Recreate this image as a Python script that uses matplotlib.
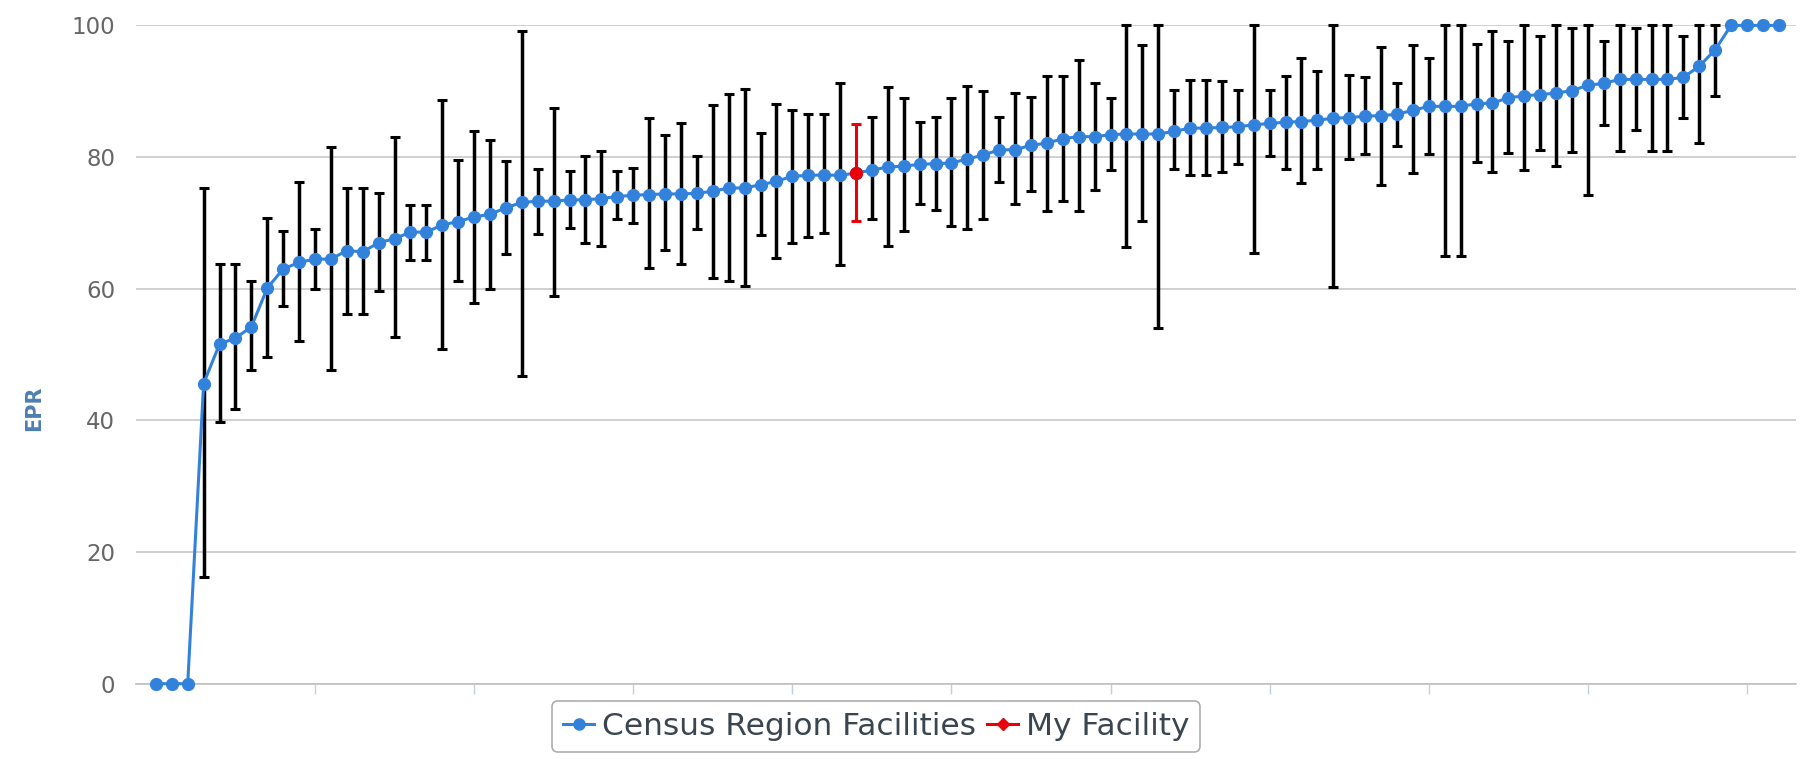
import numpy as np
import matplotlib
matplotlib.use("Agg")
import matplotlib.pyplot as plt
from matplotlib.lines import Line2D

# ---- data ----
epr = [0, 0, 0, 45.6, 51.6, 52.5, 54.2, 60.1, 63.0, 64.0,
       64.5, 64.5, 65.8, 65.6, 67.0, 67.6, 68.6, 68.6, 69.7, 70.2,
       70.9, 71.3, 72.3, 73.1, 73.3, 73.3, 73.5, 73.5, 73.7, 74.0,
       74.2, 74.3, 74.4, 74.4, 74.5, 74.8, 75.3, 75.3, 75.8, 76.3,
       77.1, 77.2, 77.3, 77.2, 77.6, 78.0, 78.5, 78.6, 78.9, 79.0,
       79.1, 79.7, 80.3, 81.1, 81.1, 81.8, 82.1, 82.8, 83.1, 83.1,
       83.4, 83.5, 83.5, 83.5, 83.9, 84.4, 84.4, 84.5, 84.6, 84.9,
       85.1, 85.3, 85.4, 85.6, 85.9, 86.0, 86.2, 86.3, 86.5, 87.1,
       87.7, 87.7, 87.7, 88.1, 88.2, 89.0, 89.3, 89.5, 89.7, 90.1,
       90.9, 91.2, 91.8, 91.8, 91.8, 91.8, 92.1, 93.8, 96.3, 100,
       100, 100, 100]

nan = np.nan
err_low = [nan, nan, nan, 16.2, 39.8, 41.7, 47.6, 49.7, 57.3, 52.0,
           60.0, 47.7, 56.2, 56.2, 59.7, 52.7, 64.3, 64.3, 50.9, 61.1,
           57.9, 59.9, 65.3, 46.7, 68.3, 58.9, 69.2, 67.0, 66.5, 70.6,
           70.0, 63.2, 65.9, 63.8, 69.1, 61.7, 61.1, 60.4, 68.1, 64.7,
           67.0, 67.9, 68.4, 63.6, 70.3, 70.6, 66.5, 68.8, 72.8, 72.0,
           69.5, 69.0, 70.6, 76.2, 72.8, 74.8, 71.8, 73.3, 71.8, 75.0,
           78.1, 66.4, 70.3, 54.0, 78.2, 77.3, 77.3, 77.8, 79.0, 65.4,
           80.2, 78.2, 76.0, 78.2, 60.2, 79.7, 80.5, 75.8, 81.7, 77.6,
           80.5, 65.0, 65.0, 79.3, 77.7, 80.6, 78.1, 81.1, 78.7, 80.8,
           74.2, 84.8, 80.9, 84.1, 80.9, 80.9, 86.0, 82.1, 89.3, nan,
           nan, nan, nan]

err_high = [nan, nan, nan, 75.3, 63.7, 63.7, 61.1, 70.8, 68.7, 76.2,
            69.1, 81.6, 75.3, 75.3, 74.5, 83.1, 72.7, 72.7, 88.7, 79.5,
            84.0, 82.6, 79.4, 99.2, 78.2, 87.5, 77.9, 80.2, 80.9, 77.9,
            78.4, 85.9, 83.4, 85.1, 80.1, 87.9, 89.6, 90.3, 83.6, 88.0,
            87.1, 86.6, 86.6, 91.3, 85.0, 86.1, 90.6, 88.9, 85.4, 86.1,
            88.9, 90.8, 90.1, 86.1, 89.8, 89.1, 92.3, 92.3, 94.7, 91.3,
            88.9, 100, 97.0, 100, 90.2, 91.7, 91.7, 91.6, 90.2, 100,
            90.2, 92.3, 95.0, 93.1, 100, 92.5, 92.1, 96.7, 91.3, 97.0,
            95.0, 100, 100, 97.2, 99.1, 97.6, 100, 98.4, 100, 99.6,
            100, 97.6, 100, 99.6, 100, 100, 98.4, 100, 100, nan,
            nan, nan, nan]

my_facility_index = 44
series_names = ["Census Region Facilities", "My Facility"]
y_ticks = [0, 20, 40, 60, 80, 100]
x_ticks = [10, 20, 30, 40, 50, 60, 70, 80, 90, 100]
y_label = "EPR"

# ---- styling ----
BLUE = "#3282dc"
RED = "#e8000b"
W, H = 1811, 759

epr_a = np.array(epr, dtype=float)
lo = np.array(err_low, dtype=float)
hi = np.array(err_high, dtype=float)
x = np.arange(len(epr_a))

fig = plt.figure(figsize=(W / 100, H / 100), dpi=100)
left, right, top, bottom = 136, 1796, 25.4, 683.7
ax = fig.add_axes([left / W, 1 - bottom / H, (right - left) / W, (bottom - top) / H])
ax.set_xlim(-1.25, 103.08)
ax.set_ylim(0, 100)

# grid / axes
ax.set_yticks(y_ticks)
ax.set_yticklabels([str(v) for v in y_ticks], color="#666666", fontsize=16.5)
ax.yaxis.grid(True, color="#c8c8c8", lw=1.2)
ax.set_axisbelow(True)
ax.tick_params(axis="y", length=0, pad=15)
ax.set_xticks(x_ticks)
ax.set_xticklabels([""] * len(x_ticks))
ax.tick_params(axis="x", length=7, width=1, color="#c0d0e0", direction="out")
for s in ("top", "right", "left"):
    ax.spines[s].set_visible(False)
ax.spines["bottom"].set_color("#c0c0c0")
ax.spines["bottom"].set_linewidth(1.2)

# error bars (black for the region facilities)
valid = ~np.isnan(lo)
blue_idx = np.array([i for i in x if valid[i] and i != my_facility_index])
ax.errorbar(x[blue_idx], epr_a[blue_idx],
            yerr=[epr_a[blue_idx] - lo[blue_idx], hi[blue_idx] - epr_a[blue_idx]],
            fmt="none", ecolor="black", elinewidth=2.5, capsize=3.8, capthick=2.2,
            zorder=3, clip_on=False)

# main series
ax.plot(x, epr_a, color=BLUE, lw=2.2, marker="o", ms=8.5, mec=BLUE, mfc=BLUE,
        zorder=4, clip_on=False)

# my facility
m = my_facility_index
ax.errorbar([x[m]], [epr_a[m]], yerr=[[epr_a[m] - lo[m]], [hi[m] - epr_a[m]]],
            fmt="none", ecolor=RED, elinewidth=2.2, capsize=3.8, capthick=2.2, zorder=5)
ax.plot([x[m]], [epr_a[m]], marker="o", ms=8.5, color=RED, zorder=6, lw=0)

# y label
fig.text(34 / W, 1 - 408 / H, y_label, rotation=90, ha="center", va="center",
         fontsize=15, fontweight="bold", color="#4d7fb0")

# legend
handles = [Line2D([], [], color=BLUE, lw=2.2, marker="o", ms=8),
           Line2D([], [], color=RED, lw=2.2, marker="D", ms=6.5)]
leg = ax.legend(handles, series_names, loc="upper left",
                bbox_to_anchor=(552 / W, 1 - 701 / H), bbox_transform=fig.transFigure,
                ncol=2, frameon=True, fancybox=True, fontsize=22.5,
                handlelength=1.0, handletextpad=0.25, columnspacing=0.35,
                borderpad=0.35, borderaxespad=0)
leg.get_frame().set_edgecolor("#9a9a9a")
leg.get_frame().set_linewidth(1.2)
for t in leg.get_texts():
    t.set_color("#3a4550")

fig.savefig("out.png", dpi=100)
